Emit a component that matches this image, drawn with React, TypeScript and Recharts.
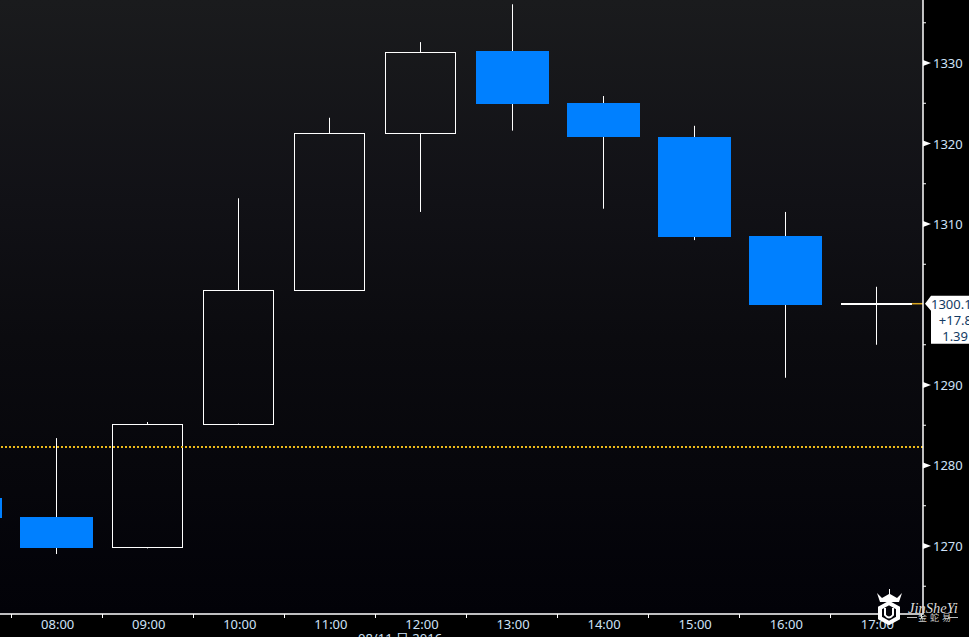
import { Bar, CartesianGrid, ComposedChart, ReferenceLine, XAxis, YAxis } from 'recharts'

const hours = [7, 8, 9, 10, 11, 12, 13, 14, 15, 16, 17]
const opens = [1276, 1273.6, 1269.9, 1285.2, 1301.8, 1321.3, 1331.5, 1325, 1320.8, 1308.5, 1300.1]
const closes = [1273.5, 1269.8, 1285.2, 1301.8, 1321.3, 1331.4, 1324.9, 1320.8, 1308.4, 1299.9, 1300.1]
const highs = [1276.5, 1283.4, 1285.4, 1313.2, 1323.2, 1332.6, 1337.3, 1325.9, 1322.2, 1311.5, 1302.2]
const lows = [1273, 1269, 1269.7, 1285.2, 1301.8, 1311.5, 1321.6, 1311.9, 1308, 1290.9, 1295]

const xTicks = [7.5, 8, 8.5, 9, 9.5, 10, 10.5, 11, 11.5, 12, 12.5, 13, 13.5, 14, 14.5, 15, 15.5, 16, 16.5, 17, 17.5]
const yTicks = [1265, 1270, 1275, 1280, 1285, 1290, 1295, 1305, 1310, 1315, 1320, 1325, 1330, 1335]

const lastPrice = 1300.1
const prevClose = 1282.3
const tagLines = ['1300.1', '+17.8', '1.39']

const data = hours.map((h, i) => ({
  h,
  open: opens[i],
  close: closes[i],
  high: highs[i],
  low: lows[i],
  range: [lows[i], highs[i]]
}))

const FONT = '"Noto Sans", sans-serif'
const LABEL = '#cfe2f7'
const BLUE = '#0080ff'

function Candle(props: any) {
  const { x, y, width, height, payload } = props
  const perUnit = height / (payload.high - payload.low)
  const cx = Math.floor(x + width / 2) + 0.5
  const top = Math.round(y + (payload.high - Math.max(payload.open, payload.close)) * perUnit)
  const bottom = Math.round(y + (payload.high - Math.min(payload.open, payload.close)) * perUnit)
  const up = payload.close > payload.open
  const flat = payload.close === payload.open
  const left = cx - width / 2

  return (
    <g>
      <line x1={cx} x2={cx} y1={y} y2={top} stroke="#fff" strokeWidth={1} />
      <line x1={cx} x2={cx} y1={bottom} y2={y + height} stroke="#fff" strokeWidth={1} />
      {flat && <line x1={cx - 35.5} x2={cx + 35.5} y1={top} y2={top} stroke="#fff" strokeWidth={2} />}
      {!flat && !up && <rect x={left} y={top} width={width} height={bottom - top} fill={BLUE} />}
      {!flat && up && (
        <rect
          x={cx - 35}
          y={top + 0.5}
          width={70}
          height={bottom - top}
          fill="none"
          stroke="#fff"
          strokeWidth={1}
        />
      )}
    </g>
  )
}

function XTick({ x, y, payload }: any) {
  if (Number.isInteger(payload.value)) {
    return (
      <text x={x + 1} y={y + 15} textAnchor="middle" fontSize={13} fontFamily={FONT} fill={LABEL}>
        {`${String(payload.value).padStart(2, '0')}:00`}
      </text>
    )
  }
  const px = Math.floor(x) + 0.5
  return <line x1={px} x2={px} y1={y} y2={y + 4} stroke="#fff" strokeWidth={1} />
}

function YTick({ x, y, payload }: any) {
  if (payload.value % 10 === 0) {
    return (
      <g>
        <polygon points={`${x},${y - 3} ${x + 8},${y} ${x},${y + 3}`} fill="#fff" />
        <text x={x + 10} y={y + 5} fontSize={13} fontFamily={FONT} fill={LABEL}>
          {payload.value}
        </text>
      </g>
    )
  }
  return <line x1={x} x2={x + 3} y1={y} y2={y} stroke="#fff" strokeWidth={1} />
}

function PriceTag({ viewBox }: any) {
  const x = viewBox.x + viewBox.width
  const y = viewBox.y
  return (
    <g>
      <polygon
        points={`${x + 2},${y} ${x + 8},${y - 8} ${x + 46},${y - 8} ${x + 46},${y + 40} ${x + 8},${y + 40} ${x + 8},${y + 7}`}
        fill="#fff"
      />
      {tagLines.map((t, i) => (
        <text
          key={t}
          x={i === 0 ? x + 8 : x + 53 - i * 4}
          y={y + 5 + i * 16}
          textAnchor={i === 0 ? 'start' : 'end'}
          fontSize={13}
          fontFamily={FONT}
          fill="#123a63"
        >
          {t}
        </text>
      ))}
    </g>
  )
}

function Watermark() {
  return (
    <svg width={99} height={52} style={{ position: 'absolute', left: 870, top: 585 }}>
      <polygon points="7,8 12,13 19,9 19,4 20,4 20,9 27,13 32,8 29,17 10,17" fill="#fff" />
      <polygon
        points="19,18 28,23 28,33 19,38 10,33 10,23"
        fill="#05050a"
        stroke="#fff"
        strokeWidth={4}
      />
      <path d="M15,23 V30 Q19,35 23,30 V23" fill="none" stroke="#fff" strokeWidth={2} />
      <text x={38} y={28} fontSize={14.5} fontStyle="italic" fontFamily='"Liberation Serif", serif' fill="#ddd">
        JinSheYi
      </text>
      <line x1={37} x2={47} y1={32.5} y2={32.5} stroke="#bbb" strokeWidth={1} />
      <line x1={78} x2={88} y1={32.5} y2={32.5} stroke="#bbb" strokeWidth={1} />
      <text x={48} y={36} fontSize={9} letterSpacing={3} fontFamily='"Noto Sans CJK SC", sans-serif' fill="#ccc">
        金蛇易
      </text>
    </svg>
  )
}

export default function App() {
  return (
    <div style={{ position: 'absolute', left: 0, top: 0, width: 969, height: 637, background: '#000', overflow: 'hidden' }}>
      <ComposedChart
        width={969}
        height={637}
        data={data}
        margin={{ top: 0, right: 0, bottom: 0, left: 0 }}
      >
        <defs>
          <linearGradient id="plotBg" x1="0" y1="0" x2="0" y2="1">
            <stop offset="0%" stopColor="#1a1b1d" />
            <stop offset="33%" stopColor="#111116" />
            <stop offset="55%" stopColor="#0b0b0f" />
            <stop offset="100%" stopColor="#020208" />
          </linearGradient>
        </defs>
        <CartesianGrid horizontal={false} vertical={false} fill="url(#plotBg)" />
        <XAxis
          dataKey="h"
          type="number"
          domain={[7.378, 17.512]}
          allowDataOverflow
          ticks={xTicks}
          interval={0}
          height={23}
          tick={<XTick />}
          tickSize={0}
          tickMargin={0}
          tickLine={false}
          axisLine={{ stroke: '#fff', strokeWidth: 1.5 }}
        />
        <YAxis
          orientation="right"
          type="number"
          domain={[1261.55, 1337.83]}
          allowDataOverflow
          ticks={yTicks}
          interval={0}
          width={46}
          tick={<YTick />}
          tickSize={0}
          tickMargin={0}
          tickLine={false}
          axisLine={{ stroke: '#fff', strokeWidth: 1.5 }}
        />
        <ReferenceLine y={prevClose} stroke="#eebb1a" strokeWidth={2} strokeDasharray="2 2" />
        <Bar dataKey="range" barSize={73} shape={<Candle />} isAnimationActive={false} />
        <ReferenceLine
          segment={[{ x: 17.39, y: lastPrice }, { x: 17.512, y: lastPrice }]}
          stroke="#d9a520"
          strokeWidth={1.5}
          label={<PriceTag />}
        />
      </ComposedChart>
      <div
        style={{
          position: 'absolute',
          left: 358,
          top: 629,
          fontSize: 13,
          fontFamily: FONT,
          color: LABEL,
          whiteSpace: 'nowrap'
        }}
      >
        08/11 日 2016
      </div>
      <Watermark />
    </div>
  )
}
